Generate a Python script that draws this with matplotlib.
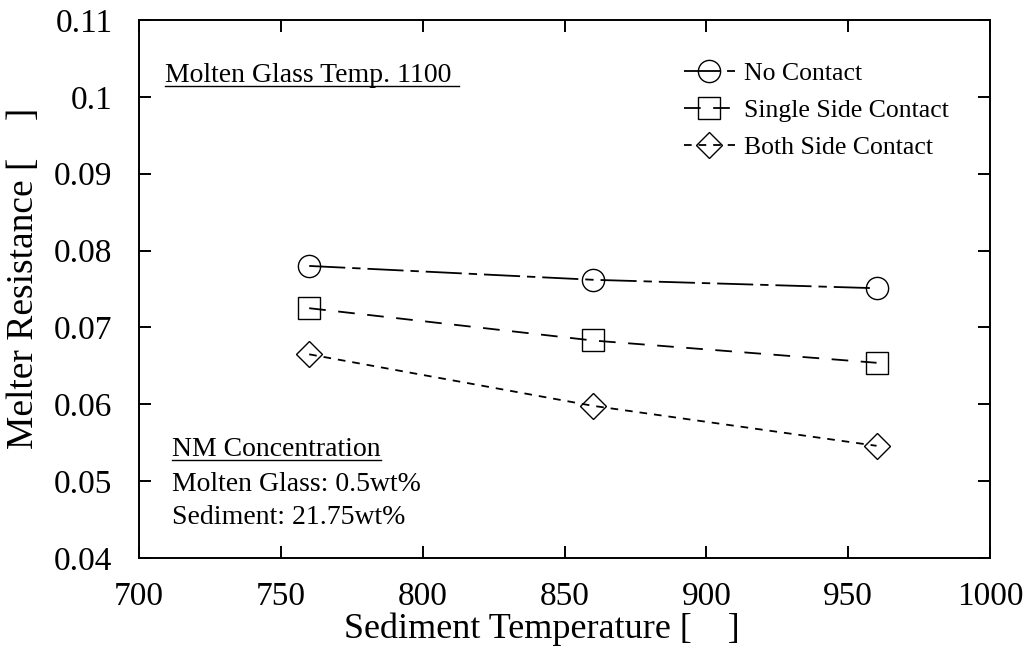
import numpy as np
import matplotlib
matplotlib.use("Agg")
import matplotlib.pyplot as plt
from matplotlib.lines import Line2D

# data
temps = [760, 860, 960]
no_contact = [0.0780, 0.0762, 0.0751]
single_side = [0.0725, 0.0683, 0.0654]
both_side = [0.0665, 0.0598, 0.0546]

x_ticks = [700, 750, 800, 850, 900, 950, 1000]
y_ticks = [0.04, 0.05, 0.06, 0.07, 0.08, 0.09, 0.10, 0.11]
y_tick_labels = ["0.04", "0.05", "0.06", "0.07", "0.08", "0.09", "0.1", "0.11"]

plt.rcParams["font.family"] = ["Liberation Serif", "DejaVu Serif"]
plt.rcParams["lines.scale_dashes"] = False
plt.rcParams["axes.linewidth"] = 1.4

fig = plt.figure(figsize=(10.26, 6.57), dpi=100)
ax = fig.add_axes([139 / 1026, 1 - 558 / 657, 851 / 1026, 538 / 657])

mk = dict(markersize=16, markerfacecolor="none", markeredgecolor="black",
          markeredgewidth=1.0, color="black", linewidth=1.3)

ax.plot(temps, no_contact, marker="o", dashes=(26, 5, 6, 5), label="No Contact", **mk)
ax.plot(temps, single_side, marker="s", dashes=(12, 9), label="Single Side Contact", **mk)
ax.plot(temps, both_side, marker="D", dashes=(5.5, 5), label="Both Side Contact",
        **{**mk, "markersize": 13})

ax.set_xlim(700, 1000)
ax.set_ylim(0.04, 0.11)
ax.set_xticks(x_ticks)
ax.set_yticks(y_ticks)
ax.set_yticklabels(y_tick_labels)
ax.tick_params(direction="in", length=8.6, width=1.4, labelsize=24, top=True, right=True)
ax.tick_params(axis="y", pad=19)
ax.tick_params(axis="x", pad=17)

ax.set_xlabel("Sediment Temperature [    ]", fontsize=26, va="center")
ax.xaxis.set_label_coords(0.4736, -0.132)
ax.set_ylabel("Melter Resistance [    ]", fontsize=27, va="center")
ax.yaxis.set_label_coords(-0.135, 0.52)

leg = ax.legend(loc="upper right", bbox_to_anchor=(0.979, 0.965), frameon=False,
                fontsize=18.5, handlelength=2.0, handletextpad=0.35,
                labelspacing=0.55)

t1 = ax.text(0.031, 0.885, "Molten Glass Temp. 1100 ", transform=ax.transAxes,
             fontsize=20, va="baseline")
t2 = ax.text(0.039, 0.190, "NM Concentration", transform=ax.transAxes,
             fontsize=20, va="baseline")
ax.text(0.039, 0.1245, "Molten Glass: 0.5wt%", transform=ax.transAxes,
        fontsize=20, va="baseline")
ax.text(0.039, 0.063, "Sediment: 21.75wt%", transform=ax.transAxes,
        fontsize=20, va="baseline")

# underline the two headings
fig.canvas.draw()
inv = fig.transFigure.inverted()
for t in (t1, t2):
    bb = t.get_window_extent()
    x0, y0 = inv.transform((bb.x0, bb.y0 + 2))
    x1, _ = inv.transform((bb.x1, bb.y0 + 2))
    fig.add_artist(Line2D([x0, x1], [y0, y0], color="black", linewidth=1.0,
                          transform=fig.transFigure))

fig.savefig("out.png", dpi=100)
